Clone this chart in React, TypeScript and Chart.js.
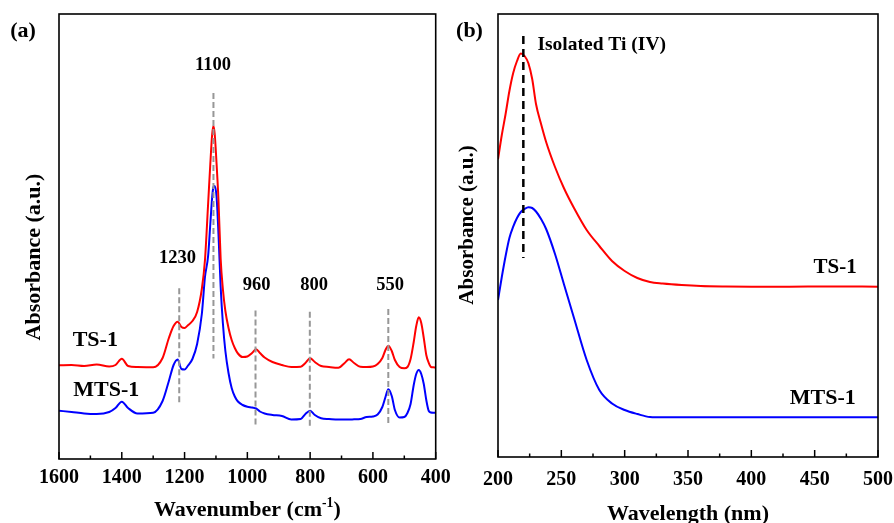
import React, { useEffect, useRef } from 'react';
import { Chart, registerables } from 'chart.js';

Chart.register(...registerables);

// ---------- Panel (a): FTIR ----------
const IR_WAVENUMBER = [
  1600, 1560, 1520, 1480, 1440, 1420, 1400, 1380, 1350, 1300, 1270, 1250, 1235, 1222, 1210, 1200,
  1190, 1175, 1160, 1145, 1135, 1125, 1118, 1112, 1108, 1104, 1098, 1092, 1085, 1078, 1070, 1060,
  1050, 1040, 1030, 1015, 1000, 985, 972, 960, 945, 920, 890, 860, 830, 815, 800, 785, 765, 740,
  710, 690, 676, 660, 640, 620, 600, 585, 570, 560, 551, 540, 530, 515, 500, 490, 480, 470, 462,
  454, 446, 438, 430, 422, 415, 408, 400,
];
const IR_TS1 = [
  93.7, 94, 93, 94.5, 92.5, 94, 100.3, 93, 92, 91.7, 101, 121, 133, 137.3, 132, 131,
  133.5, 138, 147, 170, 199, 255, 295, 325, 333, 325, 295, 259, 200, 170, 148, 131,
  119, 111, 105.5, 102, 102.5, 106, 109.7, 106, 101.5, 97, 94, 92, 92.3, 96, 100.7, 97, 93, 92,
  91.3, 96, 99.7, 96, 92.3, 92, 92.5, 95, 101, 109, 113.3, 108, 99, 92, 90.7, 92, 100, 117, 133,
  141.7, 136, 121, 104, 96, 92, 91.7, 91.5,
];
const IR_MTS1 = [
  48.3, 47, 45.5, 45, 47, 51, 57.3, 51, 45.5, 46.3, 58, 78, 94, 99.5, 90, 89.5,
  93, 100, 115, 145, 182, 203, 235, 262, 272, 273, 262, 225, 172, 136, 108, 86,
  71, 62.5, 57.5, 54, 52.3, 51.5, 50.5, 47.5, 45.5, 44, 43, 39.5, 40, 45, 48.3, 44, 40.7, 40,
  39.5, 39.5, 39.5, 39.7, 40, 42, 42.5, 44.5, 52, 62, 69.7, 63, 49, 41.5, 42, 46, 55, 74, 85,
  89, 85, 75, 59, 48, 46.5, 46.3, 46.3,
];
const IR_X_TICKS = [1600, 1400, 1200, 1000, 800, 600, 400];
const IR_PEAK_POS = [1108, 1217, 974, 801, 551];
const IR_PEAK_LABELS = ['1100', '1230', '960', '800', '550'];

// ---------- Panel (b): UV-vis ----------
const UV_WAVELENGTH = [
  200, 203, 206, 209, 212, 215, 218, 221, 224, 227, 230, 234, 238, 245, 252, 260, 270, 280, 290,
  300, 310, 320, 330, 345, 360, 380, 400, 430, 460, 500,
];
const UV_TS1 = [
  297.7, 322, 343, 366, 384, 396, 403.5, 401, 393.7, 378, 353, 333, 315, 290, 269, 249, 227, 211,
  196, 186, 179, 175, 173.5, 172, 171, 170.5, 170.3, 170.3, 170.5, 170.3,
];
const UV_MTS1 = [
  157, 180, 201, 219, 230.3, 239, 245, 248, 249.7, 249, 245.5, 238, 228, 203, 173, 139, 97, 67,
  53.5, 47, 43, 40, 39.7, 39.7, 39.7, 39.7, 39.7, 39.7, 39.7, 39.7,
];
const UV_X_TICKS = [200, 250, 300, 350, 400, 450, 500];
const UV_PEAK_POS = [220];

const FONT = '"Liberation Serif", "Times New Roman", serif';
const W = 894;
const H = 523;

type Seg = { t: string; sup?: boolean };

const decorPlugin = {
  id: 'decor',
  afterDatasetsDraw(chart: any, _args: any, o: any) {
    const ctx: CanvasRenderingContext2D = chart.ctx;
    const xs = chart.scales.x;
    const ys = chart.scales.y;
    const { left, right, top, bottom } = chart.chartArea;
    ctx.save();

    for (const v of o.vlines || []) {
      const px = xs.getPixelForValue(v.x);
      ctx.beginPath();
      ctx.setLineDash(v.dash);
      ctx.strokeStyle = v.color;
      ctx.lineWidth = v.width;
      ctx.moveTo(px, ys.getPixelForValue(v.y0));
      ctx.lineTo(px, ys.getPixelForValue(v.y1));
      ctx.stroke();
    }
    ctx.setLineDash([]);

    ctx.strokeStyle = '#000';
    ctx.lineWidth = 1.6;
    ctx.strokeRect(left, top, right - left, bottom - top);

    ctx.lineWidth = 1.5;
    const step = o.minorStep;
    for (let v = xs.min; v <= xs.max + 1e-6; v += step) {
      const px = xs.getPixelForValue(v);
      const r = (v - xs.min) / o.majorStep;
      const major = Math.abs(r - Math.round(r)) < 1e-6;
      ctx.beginPath();
      ctx.moveTo(px, bottom);
      ctx.lineTo(px, bottom - (major ? 7 : 3.5));
      ctx.stroke();
    }

    ctx.fillStyle = '#000';
    for (const t of o.texts || []) {
      ctx.font = `bold ${t.size}px ${FONT}`;
      ctx.textAlign = t.align;
      ctx.textBaseline = 'middle';
      ctx.fillText(t.text, xs.getPixelForValue(t.x), ys.getPixelForValue(t.y));
    }

    ctx.font = `bold 22px ${FONT}`;
    ctx.textAlign = 'center';
    ctx.textBaseline = 'middle';
    ctx.fillText(o.panel, o.panelX, 31);

    const segs: Seg[] = o.xTitle;
    const size = o.xTitleSize;
    const supSize = size * 0.62;
    let total = 0;
    for (const s of segs) {
      ctx.font = `bold ${s.sup ? supSize : size}px ${FONT}`;
      total += ctx.measureText(s.t).width;
    }
    let cx = (left + right) / 2 - total / 2;
    ctx.textAlign = 'left';
    ctx.textBaseline = 'alphabetic';
    const base = o.xTitleY + size * 0.33;
    for (const s of segs) {
      ctx.font = `bold ${s.sup ? supSize : size}px ${FONT}`;
      ctx.fillText(s.t, cx, s.sup ? base - size * 0.42 : base);
      cx += ctx.measureText(s.t).width;
    }

    ctx.save();
    ctx.translate(o.yTitleX, o.yTitleY);
    ctx.rotate(-Math.PI / 2);
    ctx.font = `bold ${o.yTitleSize}px ${FONT}`;
    ctx.textAlign = 'center';
    ctx.textBaseline = 'middle';
    ctx.fillText('Absorbance (a.u.)', 0, 0);
    ctx.restore();

    ctx.restore();
  },
};

function makeConfig(p: any): any {
  return {
    type: 'line',
    data: {
      datasets: [
        {
          label: 'TS-1',
          data: p.x.map((v: number, i: number) => ({ x: v, y: p.ts[i] })),
          borderColor: '#ff0000',
          borderWidth: 2,
          pointRadius: 0,
          cubicInterpolationMode: 'monotone',
          fill: false,
        },
        {
          label: 'MTS-1',
          data: p.x.map((v: number, i: number) => ({ x: v, y: p.mts[i] })),
          borderColor: '#0000ff',
          borderWidth: 2,
          pointRadius: 0,
          cubicInterpolationMode: 'monotone',
          fill: false,
        },
      ],
    },
    options: {
      responsive: false,
      animation: false,
      events: [],
      layout: { padding: { left: p.padLeft, right: p.padRight, top: 14, bottom: 0 } },
      plugins: {
        legend: { display: false },
        tooltip: { enabled: false },
        decor: p.decor,
      },
      scales: {
        x: {
          type: 'linear',
          min: p.min,
          max: p.max,
          reverse: p.reverse,
          grid: { display: false, drawTicks: false },
          border: { display: false },
          afterBuildTicks: (s: any) => {
            s.ticks = p.ticks.map((v: number) => ({ value: v }));
          },
          afterFit: (s: any) => {
            s.height = p.xHeight;
            s.paddingLeft = 0;
            s.paddingRight = 0;
          },
          ticks: {
            autoSkip: false,
            maxRotation: 0,
            minRotation: 0,
            padding: p.tickPad,
            color: '#000',
            font: { family: FONT, size: 20, weight: 'bold' },
            callback: (v: number) => String(v),
          },
        },
        y: { display: false, min: 0, max: p.yMax },
      },
    },
    plugins: [decorPlugin],
  };
}

const GRAY = { color: '#979797', width: 2, dash: [6, 3] };

const irDecor = {
  panel: '(a)',
  panelX: 23,
  minorStep: 100,
  majorStep: 200,
  xTitle: [{ t: 'Wavenumber (cm' }, { t: '-1', sup: true }, { t: ')' }],
  xTitleSize: 22,
  xTitleY: 509,
  yTitleX: 34,
  yTitleY: 257,
  yTitleSize: 22,
  vlines: [
    { x: IR_PEAK_POS[0], y0: 366, y1: 100.5, ...GRAY },
    { x: IR_PEAK_POS[1], y0: 170.7, y1: 55, ...GRAY },
    { x: IR_PEAK_POS[2], y0: 148.5, y1: 32.3, ...GRAY },
    { x: IR_PEAK_POS[3], y0: 147.3, y1: 31.3, ...GRAY },
    { x: IR_PEAK_POS[4], y0: 150, y1: 34, ...GRAY },
  ],
  texts: [
    { text: IR_PEAK_LABELS[0], x: 1109.5, y: 393.5, size: 18.5, align: 'center' },
    { text: IR_PEAK_LABELS[1], x: 1222.6, y: 201, size: 18.5, align: 'center' },
    { text: IR_PEAK_LABELS[2], x: 970.4, y: 173.7, size: 18.5, align: 'center' },
    { text: IR_PEAK_LABELS[3], x: 787, y: 173.7, size: 18.5, align: 'center' },
    { text: IR_PEAK_LABELS[4], x: 545, y: 173.7, size: 18.5, align: 'center' },
    { text: 'TS-1', x: 1556.4, y: 119, size: 22, align: 'left' },
    { text: 'MTS-1', x: 1554.5, y: 69, size: 22, align: 'left' },
  ],
};

const uvDecor = {
  panel: '(b)',
  panelX: 469.5,
  minorStep: 25,
  majorStep: 50,
  xTitle: [{ t: 'Wavelength (nm)' }],
  xTitleSize: 22,
  xTitleY: 512.5,
  yTitleX: 468,
  yTitleY: 225,
  yTitleSize: 21,
  vlines: [{ x: UV_PEAK_POS[0], y0: 421, y1: 199, color: '#000', width: 2.5, dash: [8, 5] }],
  texts: [
    { text: 'Isolated Ti (IV)', x: 231.1, y: 412, size: 19.5, align: 'left' },
    { text: 'TS-1', x: 483.2, y: 189, size: 21, align: 'right' },
    { text: 'MTS-1', x: 482.4, y: 59, size: 22, align: 'right' },
  ],
};

export default function App() {
  const refA = useRef<HTMLCanvasElement | null>(null);
  const refB = useRef<HTMLCanvasElement | null>(null);

  useEffect(() => {
    const a = new Chart(
      refA.current as HTMLCanvasElement,
      makeConfig({
        x: IR_WAVENUMBER,
        ts: IR_TS1,
        mts: IR_MTS1,
        ticks: IR_X_TICKS,
        min: 400,
        max: 1600,
        reverse: true,
        padLeft: 59,
        padRight: W - 435.7,
        xHeight: 64,
        yMax: 445,
        tickPad: 7,
        decor: irDecor,
      })
    );
    const b = new Chart(
      refB.current as HTMLCanvasElement,
      makeConfig({
        x: UV_WAVELENGTH,
        ts: UV_TS1,
        mts: UV_MTS1,
        ticks: UV_X_TICKS,
        min: 200,
        max: 500,
        reverse: false,
        padLeft: 498,
        padRight: 16,
        xHeight: 66,
        yMax: 443,
        tickPad: 11,
        decor: uvDecor,
      })
    );
    return () => {
      a.destroy();
      b.destroy();
    };
  }, []);

  return (
    <div style={{ position: 'fixed', left: 0, top: 0, width: W, height: H, background: '#fff' }}>
      <canvas ref={refA} width={W} height={H} style={{ position: 'absolute', left: 0, top: 0 }} />
      <canvas ref={refB} width={W} height={H} style={{ position: 'absolute', left: 0, top: 0 }} />
    </div>
  );
}
